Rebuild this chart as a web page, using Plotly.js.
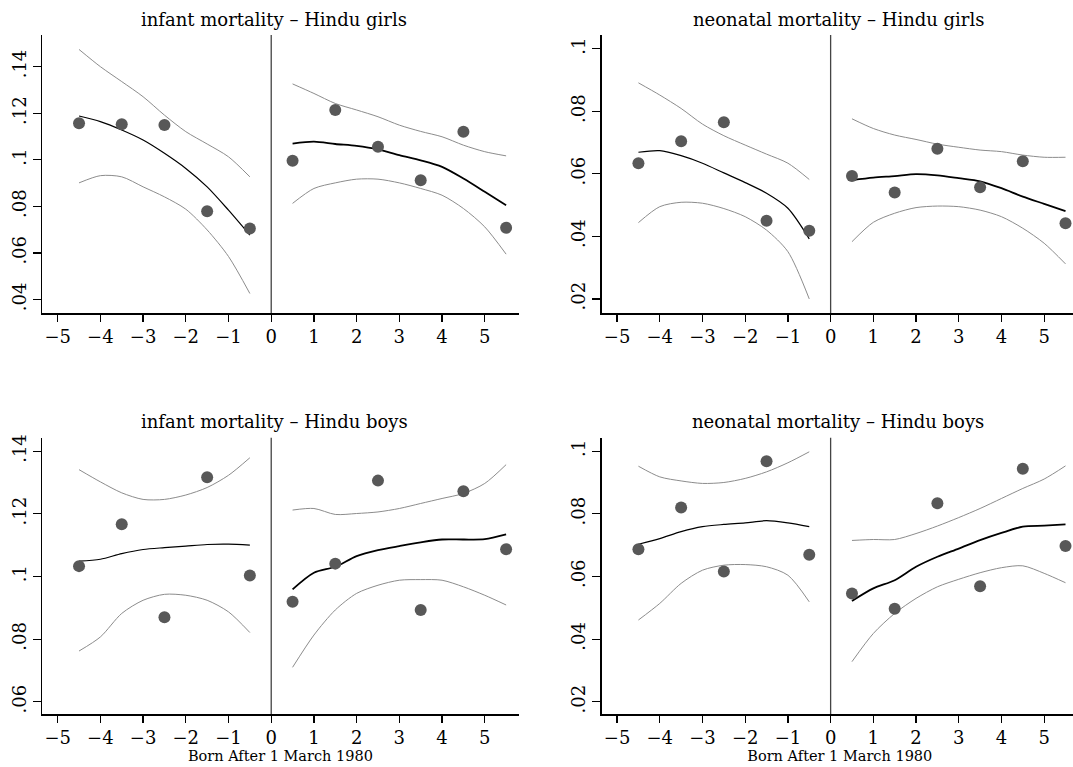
<!DOCTYPE html>
<html>
<head>
<meta charset="utf-8">
<script src="https://cdn.plot.ly/plotly-3.0.1.min.js"></script>
<style>
html,body{margin:0;padding:0;overflow:hidden;background:#fff;}
#chart{width:1080px;height:767px;}
</style>
</head>
<body>
<div id="chart"></div>
<script>
// ---- data ----
const binX = [-4.5,-3.5,-2.5,-1.5,-0.5,0.5,1.5,2.5,3.5,4.5,5.5];
const leftX = [-4.5,-4,-3.5,-3,-2.5,-2,-1.5,-1,-0.5];
const rightX = [0.5,1,1.5,2,2.5,3,3.5,4,4.5,5,5.5];

const panelTitles = ["infant mortality – Hindu girls","neonatal mortality – Hindu girls",
                     "infant mortality – Hindu boys","neonatal mortality – Hindu boys"];
const xAxisTitle = "Born After 1 March 1980";

// infant mortality – Hindu girls
const imGirlsPts   = [0.1157,0.1153,0.1150,0.0779,0.0705,0.0996,0.1214,0.1056,0.0912,0.1121,0.0708];
const imGirlsFitL  = [0.1188,0.1164,0.1128,0.1085,0.1028,0.0963,0.0884,0.0784,0.0677];
const imGirlsHiL   = [0.1474,0.1400,0.1336,0.1271,0.1192,0.1121,0.1068,0.1013,0.0927];
const imGirlsLoL   = [0.0901,0.0932,0.0927,0.0884,0.0841,0.0788,0.0699,0.0585,0.0426];
const imGirlsFitR  = [0.1070,0.1078,0.1068,0.1060,0.1045,0.1020,0.0998,0.0970,0.0920,0.0863,0.0805];
const imGirlsHiR   = [0.1326,0.1285,0.1242,0.1214,0.1185,0.1149,0.1122,0.1099,0.1063,0.1035,0.1017];
const imGirlsLoR   = [0.0813,0.0877,0.0901,0.0917,0.0917,0.0901,0.0877,0.0848,0.0791,0.0712,0.0595];

// neonatal mortality – Hindu girls
const nmGirlsPts   = [0.0634,0.0704,0.0765,0.0450,0.0418,0.0593,0.0540,0.0680,0.0557,0.0640,0.0442];
const nmGirlsFitL  = [0.0669,0.0674,0.0658,0.0634,0.0603,0.0572,0.0538,0.0490,0.0392];
const nmGirlsHiL   = [0.0891,0.0852,0.0809,0.0759,0.0722,0.0692,0.0663,0.0634,0.0582];
const nmGirlsLoL   = [0.0444,0.0495,0.0509,0.0506,0.0489,0.0463,0.0420,0.0351,0.0200];
const nmGirlsFitR  = [0.0580,0.0588,0.0593,0.0599,0.0595,0.0586,0.0576,0.0554,0.0527,0.0504,0.0481];
const nmGirlsHiR   = [0.0776,0.0745,0.0724,0.0710,0.0695,0.0685,0.0676,0.0671,0.0660,0.0653,0.0653];
const nmGirlsLoR   = [0.0383,0.0445,0.0474,0.0492,0.0497,0.0495,0.0484,0.0463,0.0426,0.0378,0.0312];

// infant mortality – Hindu boys
const imBoysPts    = [0.1033,0.1167,0.0870,0.1317,0.1003,0.0919,0.1041,0.1306,0.0893,0.1272,0.1087];
const imBoysFitL   = [0.1049,0.1055,0.1073,0.1086,0.1092,0.1097,0.1102,0.1103,0.1100];
const imBoysHiL    = [0.1341,0.1302,0.1267,0.1246,0.1246,0.1260,0.1284,0.1323,0.1379];
const imBoysLoL    = [0.0762,0.0807,0.0882,0.0924,0.0943,0.0940,0.0924,0.0887,0.0821];
const imBoysFitR   = [0.0959,0.1012,0.1031,0.1065,0.1084,0.1097,0.1109,0.1118,0.1118,0.1119,0.1134];
const imBoysHiR    = [0.1212,0.1217,0.1198,0.1201,0.1206,0.1217,0.1233,0.1249,0.1265,0.1297,0.1357];
const imBoysLoR    = [0.0710,0.0813,0.0893,0.0946,0.0972,0.0988,0.0990,0.0988,0.0967,0.0940,0.0909];

// neonatal mortality – Hindu boys
const nmBoysPts    = [0.0687,0.0820,0.0616,0.0968,0.0669,0.0546,0.0497,0.0834,0.0569,0.0944,0.0697];
const nmBoysFitL   = [0.0703,0.0721,0.0743,0.0759,0.0766,0.0771,0.0778,0.0771,0.0759];
const nmBoysHiL    = [0.0952,0.0918,0.0905,0.0897,0.0900,0.0913,0.0934,0.0963,0.0998];
const nmBoysLoL    = [0.0461,0.0514,0.0578,0.0620,0.0636,0.0638,0.0631,0.0604,0.0519];
const nmBoysFitR   = [0.0522,0.0562,0.0588,0.0631,0.0663,0.0689,0.0716,0.0739,0.0759,0.0762,0.0766];
const nmBoysHiR    = [0.0715,0.0718,0.0718,0.0737,0.0761,0.0788,0.0817,0.0849,0.0881,0.0911,0.0953];
const nmBoysLoR    = [0.0328,0.0418,0.0482,0.0530,0.0567,0.0591,0.0612,0.0628,0.0634,0.0610,0.0580];

const yTickVals1 = [0.04,0.06,0.08,0.10,0.12,0.14];
const yTickText1 = [".04",".06",".08",".1",".12",".14"];
const yTickVals2 = [0.02,0.04,0.06,0.08,0.10];
const yTickText2 = [".02",".04",".06",".08",".1"];
const yTickVals3 = [0.06,0.08,0.10,0.12,0.14];
const yTickText3 = [".06",".08",".1",".12",".14"];

// ---- build ----
const W = 1080, H = 767;
const FONT = "DejaVu Serif, Liberation Serif, serif";
const panels = [
  {pts:imGirlsPts, fl:imGirlsFitL, hl:imGirlsHiL, ll:imGirlsLoL, fr:imGirlsFitR, hr:imGirlsHiR, lr:imGirlsLoR,
   xd:[42.3,518.5], yd:[35,313.3], yr:[0.0341,0.1536], tv:yTickVals1, tt:yTickText1},
  {pts:nmGirlsPts, fl:nmGirlsFitL, hl:nmGirlsHiL, ll:nmGirlsLoL, fr:nmGirlsFitR, hr:nmGirlsHiR, lr:nmGirlsLoR,
   xd:[601.7,1077.9], yd:[35,313.3], yr:[0.0154,0.1044], tv:yTickVals2, tt:yTickText2},
  {pts:imBoysPts, fl:imBoysFitL, hl:imBoysHiL, ll:imBoysLoL, fr:imBoysFitR, hr:imBoysHiR, lr:imBoysLoR,
   xd:[42.3,518.5], yd:[437.7,714.3], yr:[0.0560,0.1443], tv:yTickVals3, tt:yTickText3},
  {pts:nmBoysPts, fl:nmBoysFitL, hl:nmBoysHiL, ll:nmBoysLoL, fr:nmBoysFitR, hr:nmBoysHiR, lr:nmBoysLoR,
   xd:[601.7,1077.9], yd:[437.7,714.3], yr:[0.0160,0.1043], tv:yTickVals2, tt:yTickText2}
];

const traces = [];
const layout = {
  width: W, height: H,
  margin:{l:0,r:0,t:0,b:0},
  paper_bgcolor:"#fff", plot_bgcolor:"#fff",
  showlegend:false,
  font:{family:FONT, color:"#000"},
  shapes:[], annotations:[]
};

panels.forEach((p,i)=>{
  const n = i+1;
  const xa = "x"+(n===1?"":n), ya = "y"+(n===1?"":n);
  const ci = {color:"#8c8c8c", width:1};
  const addLine = (x,y,line)=>traces.push({type:"scatter",mode:"lines",x:x,y:y,xaxis:xa,yaxis:ya,
      line:Object.assign({shape:"spline",smoothing:0.8},line),hoverinfo:"skip"});
  addLine(leftX,p.hl,ci); addLine(leftX,p.ll,ci);
  addLine(rightX,p.hr,ci); addLine(rightX,p.lr,ci);
  addLine(leftX,p.fl,{color:"#000",width:1.2});
  addLine(rightX,p.fr,{color:"#000",width:1.8});
  traces.push({type:"scatter",mode:"markers",x:binX,y:p.pts,xaxis:xa,yaxis:ya,
    marker:{color:"#585858",size:12,line:{width:0}},cliponaxis:false});

  layout["xaxis"+(n===1?"":n)] = {
    domain:[p.xd[0]/W,p.xd[1]/W], anchor:ya, range:[-5.36,5.79],
    tickmode:"array", tickvals:[-5,-4,-3,-2,-1,0,1,2,3,4,5],
    ticktext:["−5","−4","−3","−2","−1","0","1","2","3","4","5"],
    ticks:"outside", ticklen:7, tickwidth:1.2, tickcolor:"#000",
    showline:true, linecolor:"#000", linewidth:1.3, showgrid:false, zeroline:false,
    tickfont:{family:FONT,size:18,color:"#000"},
    title: (n>=3) ? {text:xAxisTitle, font:{family:FONT,size:14.5,color:"#000"}, standoff:0} : {text:""}
  };
  layout["yaxis"+(n===1?"":n)] = {
    domain:[1-p.yd[1]/H,1-p.yd[0]/H], anchor:xa, range:p.yr,
    tickmode:"array", tickvals:p.tv, ticktext:p.tt, tickangle:-90,
    ticks:"outside", ticklen:8, tickwidth:1.2, tickcolor:"#000",
    showline:true, linecolor:"#000", linewidth:1.3, showgrid:false, zeroline:false,
    tickfont:{family:FONT,size:18,color:"#000"}
  };
  layout.shapes.push({type:"line", xref:xa, yref:ya+" domain", x0:0, x1:0, y0:0, y1:1,
    line:{color:"#444",width:1.3}, layer:"below"});
  const cx = (n%2===1) ? 274 : 838;
  const ty = (n<=2) ? 20 : 421.7;
  layout.annotations.push({text:panelTitles[i], xref:"paper", yref:"paper",
    x:cx/W, y:1-ty/H, xanchor:"center", yanchor:"middle", showarrow:false,
    font:{family:FONT,size:18,color:"#000"}});
});

Plotly.newPlot("chart", traces, layout, {staticPlot:true, displayModeBar:false});
</script>
</body>
</html>
